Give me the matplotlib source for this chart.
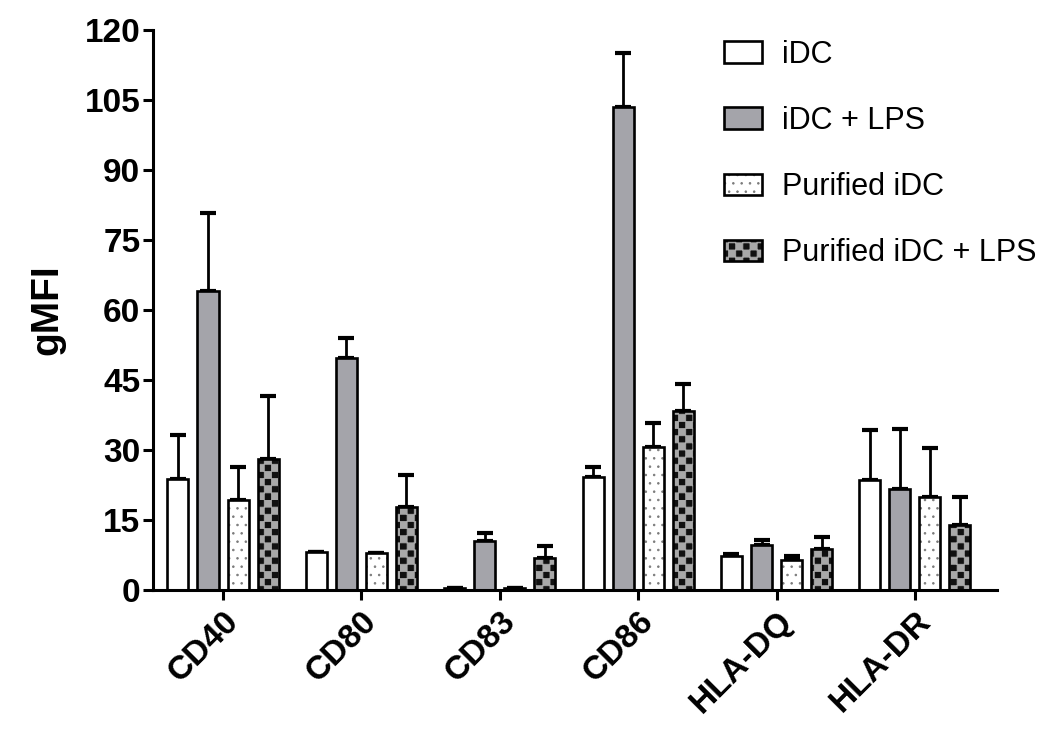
import numpy as np
import matplotlib
matplotlib.use("Agg")
import matplotlib.pyplot as plt
import matplotlib.hatch as mhatch
from matplotlib.path import Path
from matplotlib.patches import Patch

# Data
groups = ["CD40", "CD80", "CD83", "CD86", "HLA-DQ", "HLA-DR"]
series_names = ["iDC", "iDC + LPS", "Purified iDC", "Purified iDC + LPS"]

idc = [23.8, 8.1, 0.5, 24.2, 7.2, 23.6]
idc_err = [9.4, 0.0, 0.0, 2.2, 0.5, 10.7]
idc_lps = [64.1, 49.7, 10.5, 103.5, 9.6, 21.6]
idc_lps_err = [16.7, 4.3, 1.7, 11.6, 1.1, 12.9]
pur = [19.3, 7.9, 0.4, 30.7, 6.4, 20.0]
pur_err = [7.1, 0.0, 0.0, 5.1, 0.9, 10.5]
pur_lps = [28.1, 17.8, 6.9, 38.4, 8.8, 14.0]
pur_lps_err = [13.5, 6.8, 2.5, 5.7, 2.6, 5.9]

yticks = [0, 15, 30, 45, 60, 75, 90, 105, 120]


# checkerboard hatch (replaces the '*' star hatch)
class CheckerHatch(mhatch.HatchPatternBase):
    def __init__(self, hatch, density):
        self.n = 14 if "*" in hatch else 0
        self.num_vertices = (self.n * self.n // 2) * 5

    def set_vertices_and_codes(self, vertices, codes):
        s = 1.0 / self.n
        square = np.array([[0, 0], [s, 0], [s, s], [0, s], [0, 0]])
        k = 0
        for i in range(self.n):
            for j in range(self.n):
                if (i + j) % 2 == 0:
                    vertices[k:k + 5] = square + [i * s, j * s]
                    codes[k:k + 5] = [Path.MOVETO, Path.LINETO, Path.LINETO,
                                      Path.LINETO, Path.CLOSEPOLY]
                    k += 5


mhatch._hatch_types = [t for t in mhatch._hatch_types if t is not mhatch.Stars] + [CheckerHatch]

plt.rcParams["font.family"] = ["Liberation Sans", "DejaVu Sans"]
plt.rcParams["hatch.linewidth"] = 0.6

values = [idc, idc_lps, pur, pur_lps]
errors = [idc_err, idc_lps_err, pur_err, pur_lps_err]
faces = ["white", "#a4a4aa", "white", "#111111"]
hatches = [None, None, "..", "*"]
hatch_colors = ["black", "black", "#7a7a7a", "#a8a8a8"]

fig = plt.figure(figsize=(10.5, 7.43), dpi=100)
ax = fig.add_axes([0.1457, 0.2059, 0.8038, 0.7537])

x = np.arange(len(groups))
pitch = 0.217
width = 0.152
edge_lw = 1.9

handles = []
for k in range(4):
    pos = x + (k - 1.5) * pitch
    ax.errorbar(pos, values[k], yerr=[np.zeros(len(groups)), errors[k]],
                fmt="none", ecolor="black", elinewidth=2.0, capsize=6,
                capthick=3.0, zorder=1)
    ax.bar(pos, values[k], width, color=faces[k], hatch=hatches[k],
           edgecolor=hatch_colors[k], linewidth=0, zorder=2)
    ax.bar(pos, values[k], width, facecolor="none", edgecolor="black",
           linewidth=edge_lw, zorder=3)
    handles.append((Patch(facecolor=faces[k], hatch=hatches[k],
                          edgecolor=hatch_colors[k], linewidth=0),
                    Patch(facecolor="none", edgecolor="black", linewidth=edge_lw)))

ax.set_xlim(-0.506, 5.593)
ax.set_ylim(0, 120)
ax.set_yticks(yticks)
ax.set_yticklabels([str(v) for v in yticks], fontsize=24, fontweight="bold")
ax.set_xticks(x)
ax.set_xticklabels(groups, fontsize=24, fontweight="bold", rotation=45,
                   ha="right", rotation_mode="anchor")
ax.set_ylabel("gMFI", fontsize=28, fontweight="bold", labelpad=14)

for side in ["top", "right"]:
    ax.spines[side].set_visible(False)
for side in ["left", "bottom"]:
    ax.spines[side].set_linewidth(2.2)
ax.tick_params(axis="both", direction="out", length=7, width=2.2, pad=2)
ax.tick_params(axis="x", pad=4)

fig.legend(handles, series_names, loc="upper left",
           bbox_to_anchor=(724 / 1050, 1 - 40 / 743), frameon=False,
           fontsize=22, handlelength=1.25, handleheight=0.72,
           handletextpad=0.65, labelspacing=1.18, borderpad=0,
           borderaxespad=0)

plt.savefig("out.png", dpi=100)
